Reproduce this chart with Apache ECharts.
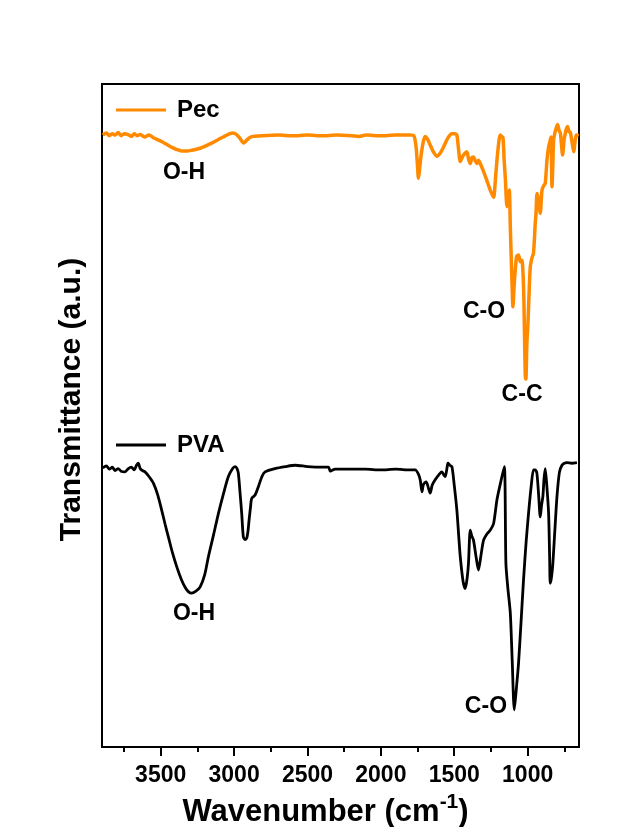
<!DOCTYPE html>
<html>
<head>
<meta charset="utf-8">
<script src="https://cdn.jsdelivr.net/npm/echarts@6/dist/echarts.min.js"></script>
<style>
  html, body { margin: 0; padding: 0; background: #ffffff; }
  #chart { width: 631px; height: 827px; }
</style>
</head>
<body>
<div id="chart"></div>
<script>
// FTIR spectra of pectin (Pec) and poly(vinyl alcohol) (PVA), offset vertically.
const seriesNames = ['Pec', 'PVA'];

const pecWavenumber = [3895, 3870, 3850, 3830, 3810, 3790, 3770, 3750, 3725, 3700, 3680, 3660, 3640, 3610, 3580, 3550, 3520, 3491, 3460, 3420, 3390, 3357, 3320, 3290, 3250, 3220, 3160, 3109, 3050, 3010, 2985, 2960, 2935, 2915, 2895, 2870, 2811, 2700, 2600, 2500, 2400, 2300, 2200, 2150, 2100, 2000, 1900, 1800, 1775, 1760, 1750, 1744, 1737, 1725, 1710, 1698, 1680, 1664, 1640, 1618, 1595, 1573, 1545, 1516, 1495, 1482, 1470, 1459, 1440, 1425, 1414, 1402, 1391, 1380, 1369, 1357, 1346, 1335, 1323, 1300, 1277, 1255, 1232, 1220, 1209, 1195, 1187, 1178, 1168, 1160, 1152, 1141, 1133, 1125, 1118, 1114, 1107, 1100, 1092, 1084, 1075, 1062, 1050, 1039, 1028, 1022, 1016, 1012, 1005, 998, 990, 982, 970, 960, 948, 943, 936, 925, 914, 902, 890, 880, 868, 857, 846, 841, 834, 828, 823, 810, 796, 786, 777, 770, 762, 752, 743, 735, 728, 718, 709, 698, 686, 676, 668, 652];
const pecTransmittance = [92.3, 92.6, 92.2, 92.5, 92.3, 92.7, 92.2, 92.5, 92.4, 92.1, 92.5, 92.2, 92.4, 92.0, 92.3, 91.9, 91.6, 91.3, 90.9, 90.4, 90.1, 89.9, 89.9, 90.0, 90.2, 90.4, 91.0, 91.6, 92.3, 92.6, 92.4, 91.8, 91.1, 91.5, 91.9, 92.1, 92.2, 92.3, 92.2, 92.3, 92.2, 92.3, 92.2, 92.1, 92.3, 92.2, 92.3, 92.3, 92.2, 90.5, 87.5, 85.8, 87.0, 89.4, 91.4, 92.1, 91.6, 90.8, 89.7, 89.1, 89.6, 90.5, 91.8, 92.5, 92.5, 92.3, 90.0, 88.3, 89.2, 89.6, 89.8, 88.6, 88.0, 88.9, 89.0, 88.4, 88.0, 88.5, 88.0, 86.8, 85.4, 84.0, 82.9, 85.5, 88.5, 91.5, 92.3, 92.1, 91.9, 88.5, 85.8, 81.5, 83.0, 84.0, 78.5, 75.4, 70.4, 66.4, 69.5, 72.0, 74.0, 74.2, 73.2, 73.4, 69.5, 63.0, 56.0, 55.5, 61.0, 63.8, 68.5, 72.4, 73.8, 74.5, 79.0, 80.5, 83.5, 82.5, 80.5, 84.0, 84.7, 85.0, 88.6, 90.5, 91.5, 92.0, 84.5, 88.0, 91.5, 93.0, 93.9, 93.0, 92.6, 91.0, 89.3, 91.5, 92.6, 93.3, 93.6, 92.8, 92.7, 91.3, 89.8, 91.5, 92.3, 92.2];

const pvaWavenumber = [3895, 3870, 3850, 3830, 3810, 3790, 3770, 3743, 3720, 3700, 3680, 3665, 3653, 3640, 3625, 3607, 3580, 3550, 3520, 3493, 3470, 3448, 3420, 3391, 3360, 3334, 3310, 3289, 3260, 3232, 3200, 3175, 3140, 3107, 3070, 3039, 3010, 2993, 2980, 2971, 2960, 2948, 2937, 2925, 2914, 2905, 2898, 2888, 2880, 2857, 2834, 2810, 2789, 2721, 2650, 2584, 2500, 2400, 2357, 2345, 2334, 2312, 2200, 2107, 2000, 1900, 1800, 1766, 1745, 1732, 1720, 1710, 1691, 1675, 1664, 1650, 1630, 1600, 1584, 1570, 1561, 1550, 1543, 1530, 1516, 1500, 1482, 1470, 1459, 1440, 1425, 1412, 1403, 1391, 1380, 1369, 1350, 1335, 1318, 1300, 1275, 1255, 1232, 1209, 1185, 1159, 1148, 1135, 1118, 1105, 1091, 1076, 1062, 1045, 1028, 1010, 994, 975, 960, 948, 937, 925, 914, 905, 896, 888, 880, 868, 857, 850, 846, 838, 828, 815, 800, 783, 766, 750, 732, 700, 664];
const pvaTransmittance = [42.1, 42.4, 41.9, 42.2, 41.7, 42.0, 41.6, 41.5, 42.0, 42.2, 41.8, 42.5, 42.8, 42.0, 41.7, 41.5, 40.8, 39.8, 38.0, 35.7, 33.6, 31.7, 29.3, 27.2, 25.3, 24.1, 23.4, 23.2, 23.5, 24.1, 26.0, 28.7, 32.0, 35.2, 38.4, 40.8, 42.0, 42.3, 42.0, 41.3, 38.5, 35.2, 31.7, 31.3, 31.5, 32.6, 34.2, 36.2, 37.5, 38.0, 39.3, 40.8, 41.5, 42.0, 42.3, 42.5, 42.3, 42.2, 42.2, 41.6, 41.7, 41.9, 41.9, 41.9, 41.8, 41.9, 41.8, 41.8, 41.2, 40.3, 38.5, 39.6, 40.0, 39.0, 38.3, 39.5, 40.3, 41.2, 41.5, 41.0, 40.8, 42.0, 42.8, 42.5, 42.3, 39.5, 35.7, 32.0, 28.7, 25.0, 23.9, 25.5, 27.7, 32.7, 31.8, 31.2, 28.5, 26.7, 28.9, 31.2, 32.2, 32.7, 33.7, 37.3, 39.8, 42.3, 27.7, 24.0, 20.2, 13.0, 5.6, 9.0, 12.6, 18.8, 25.2, 31.0, 35.2, 39.5, 41.8, 41.8, 41.3, 38.0, 34.7, 36.5, 37.8, 40.5, 42.0, 39.0, 35.2, 28.5, 24.7, 25.5, 27.7, 32.5, 37.8, 41.5, 42.5, 42.8, 42.9, 42.8, 42.9];

// Band assignments written next to each spectrum (wavenumber, transmittance level)
const pecBands = ['O-H', 'C-O', 'C-C'];
const pecBandWavenumber = [3341, 1297, 1038];
const pecBandLevel = [86.7, 65.7, 53.1];
const pvaBands = ['O-H', 'C-O'];
const pvaBandWavenumber = [3273, 1284];
const pvaBandLevel = [20.1, 6.1];

// Bottom axis ticks
const majorTickValues = [3500, 3000, 2500, 2000, 1500, 1000];
const majorTickLabels = ['3500', '3000', '2500', '2000', '1500', '1000'];
const minorTickValues = [3750, 3250, 2750, 2250, 1750, 1250, 750];

const FONT = '"Liberation Sans", Arial, sans-serif';
const colors = ['#FF8A00', '#000000'];

const toPairs = (xs, ys) => xs.map((x, i) => [x, ys[i]]);
const bandMarks = (names, xs, ys) => ({
  symbol: 'circle',
  symbolSize: 0,
  silent: true,
  label: {
    show: true,
    position: 'inside',
    formatter: '{b}',
    color: '#000',
    fontFamily: FONT,
    fontWeight: 'bold',
    fontSize: 23
  },
  data: names.map((n, i) => ({ name: n, coord: [xs[i], ys[i]] }))
});

const chart = echarts.init(document.getElementById('chart'), null, { renderer: 'canvas' });

const xRange = { min: 650, max: 3900, inverse: true };
const legendText = { fontFamily: FONT, fontWeight: 'bold', fontSize: 24, color: '#000', padding: [0, 0, 0, 6] };

chart.setOption({
  animation: false,
  backgroundColor: '#ffffff',
  grid: {
    left: 102, top: 84, width: 477, height: 663,
    outerBoundsMode: 'none', containLabel: false,
    show: true, borderColor: '#000', borderWidth: 2, backgroundColor: 'transparent'
  },
  legend: [
    {
      data: [seriesNames[0]], left: 116, top: 98, padding: 0,
      icon: 'rect', itemWidth: 50, itemHeight: 3, textStyle: legendText
    },
    {
      data: [seriesNames[1]], left: 116, top: 433, padding: 0,
      icon: 'rect', itemWidth: 50, itemHeight: 3, textStyle: legendText
    }
  ],
  xAxis: [
    {
      type: 'value', ...xRange, position: 'bottom',
      axisLine: { show: true, lineStyle: { color: '#000', width: 2 } },
      axisTick: { show: true, inside: false, length: 9, customValues: majorTickValues, lineStyle: { color: '#000', width: 2 } },
      axisLabel: {
        show: true, margin: 17, customValues: majorTickValues,
        formatter: v => majorTickLabels[majorTickValues.indexOf(v)] ?? '',
        fontFamily: FONT, fontWeight: 'bold', fontSize: 23, color: '#000'
      },
      splitLine: { show: false },
      name: '{t|Wavenumber (cm}{s|-1}{t|)}',
      nameLocation: 'middle',
      nameGap: 43,
      nameTextStyle: {
        padding: [0, 30, 0, 0],
        rich: {
          t: { fontFamily: FONT, fontWeight: 'bold', fontSize: 31, color: '#000', lineHeight: 36, verticalAlign: 'bottom' },
          s: { fontFamily: FONT, fontWeight: 'bold', fontSize: 21, color: '#000', lineHeight: 36, verticalAlign: 'top', padding: [0, 0, 14, 0] }
        }
      }
    },
    {
      type: 'value', ...xRange, position: 'bottom',
      axisLine: { show: false },
      axisTick: { show: true, inside: false, length: 5, customValues: minorTickValues, lineStyle: { color: '#000', width: 2 } },
      axisLabel: { show: false },
      splitLine: { show: false }
    }
  ],
  yAxis: {
    type: 'value', min: 0, max: 100,
    axisLine: { show: false }, axisTick: { show: false }, axisLabel: { show: false }, splitLine: { show: false },
    name: 'Transmittance (a.u.)',
    nameLocation: 'middle',
    nameRotate: 90,
    nameGap: 15,
    nameTextStyle: { fontFamily: FONT, fontWeight: 'bold', fontSize: 30, color: '#000', padding: [0, 0, 0, 32] }
  },
  series: [
    {
      name: seriesNames[0], type: 'line', xAxisIndex: 0,
      data: toPairs(pecWavenumber, pecTransmittance),
      showSymbol: false, smooth: 0.25,
      lineStyle: { color: colors[0], width: 3.5 },
      itemStyle: { color: colors[0] },
      markPoint: bandMarks(pecBands, pecBandWavenumber, pecBandLevel)
    },
    {
      name: seriesNames[1], type: 'line', xAxisIndex: 0,
      data: toPairs(pvaWavenumber, pvaTransmittance),
      showSymbol: false, smooth: 0.25,
      lineStyle: { color: colors[1], width: 2.8 },
      itemStyle: { color: colors[1] },
      markPoint: bandMarks(pvaBands, pvaBandWavenumber, pvaBandLevel)
    }
  ]
});
</script>
</body>
</html>
